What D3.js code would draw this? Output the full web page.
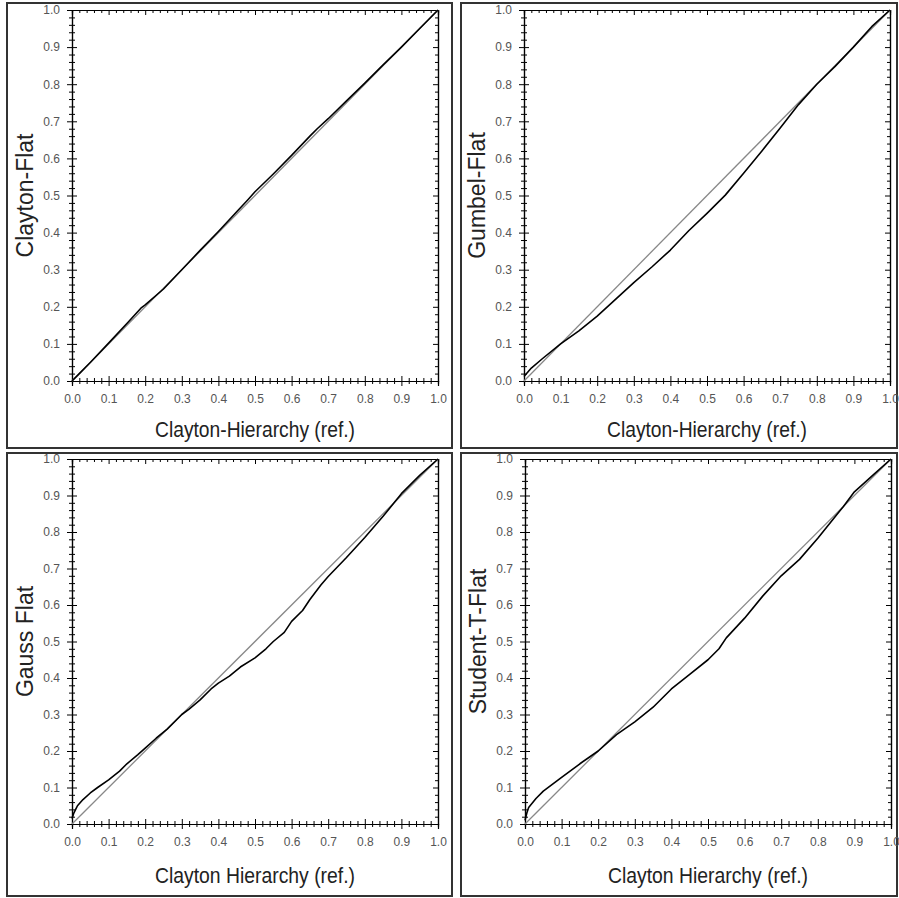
<!DOCTYPE html>
<html>
<head>
<meta charset="utf-8">
<script src="https://cdn.jsdelivr.net/npm/d3@7"></script>
<style>
  body { margin: 0; background: #fff; }
  svg { display: block; }
  .tick text { font-family: "Liberation Sans", Arial, sans-serif; font-size: 12px; fill: #555; }
  .title { font-family: "Liberation Sans", Arial, sans-serif; fill: #222; }
</style>
</head>
<body>
<svg></svg>
<script>
const width = 899;
const height = 898;

// tick labels, shared by every panel
const majorTicks = [0, 0.1, 0.2, 0.3, 0.4, 0.5, 0.6, 0.7, 0.8, 0.9, 1.0];
const minorTicks = [0.02, 0.04, 0.06, 0.08, 0.12, 0.14, 0.16, 0.18, 0.22, 0.24, 0.26, 0.28,
  0.32, 0.34, 0.36, 0.38, 0.42, 0.44, 0.46, 0.48, 0.52, 0.54, 0.56, 0.58, 0.62, 0.64, 0.66, 0.68,
  0.72, 0.74, 0.76, 0.78, 0.82, 0.84, 0.86, 0.88, 0.92, 0.94, 0.96, 0.98];

// reference diagonal
const diagX = [0, 1];
const diagY = [0, 1];

// Clayton-Flat vs Clayton-Hierarchy
const claytonX = [0, 0.02, 0.05, 0.1, 0.15, 0.19, 0.2, 0.25, 0.3, 0.35, 0.4, 0.45, 0.48, 0.5, 0.55, 0.6, 0.65, 0.67, 0.7, 0.75, 0.8, 0.85, 0.9, 0.95, 1];
const claytonY = [0, 0.02, 0.05, 0.102, 0.155, 0.198, 0.205, 0.248, 0.3, 0.352, 0.403, 0.456, 0.488, 0.51, 0.558, 0.608, 0.66, 0.68, 0.707, 0.755, 0.803, 0.852, 0.9, 0.95, 1];

// Gumbel-Flat vs Clayton-Hierarchy
const gumbelX = [0, 0.02, 0.05, 0.1, 0.15, 0.2, 0.25, 0.3, 0.35, 0.4, 0.45, 0.5, 0.55, 0.6, 0.65, 0.7, 0.75, 0.8, 0.85, 0.9, 0.95, 1];
const gumbelY = [0.012, 0.035, 0.06, 0.1, 0.135, 0.175, 0.22, 0.265, 0.308, 0.353, 0.405, 0.452, 0.501, 0.56, 0.62, 0.682, 0.745, 0.8, 0.848, 0.9, 0.955, 1];

// Gauss Flat vs Clayton Hierarchy
const gaussX = [0, 0.005, 0.01, 0.015, 0.03, 0.05, 0.07, 0.1, 0.13, 0.15, 0.18, 0.2, 0.23, 0.26, 0.3, 0.32, 0.35, 0.38, 0.4, 0.43, 0.46, 0.5, 0.53, 0.55, 0.58, 0.6, 0.63, 0.65, 0.68, 0.7, 0.75, 0.8, 0.85, 0.88, 0.9, 0.95, 1];
const gaussY = [0.015, 0.03, 0.04, 0.05, 0.067, 0.085, 0.1, 0.121, 0.145, 0.165, 0.19, 0.208, 0.235, 0.26, 0.3, 0.315, 0.34, 0.37, 0.386, 0.405, 0.43, 0.455, 0.48, 0.5, 0.525, 0.555, 0.585, 0.615, 0.655, 0.678, 0.73, 0.785, 0.843, 0.88, 0.905, 0.955, 1];

// Student-T-Flat vs Clayton Hierarchy
const studentX = [0, 0.005, 0.01, 0.03, 0.05, 0.1, 0.15, 0.2, 0.25, 0.3, 0.35, 0.4, 0.45, 0.5, 0.53, 0.55, 0.6, 0.65, 0.7, 0.75, 0.8, 0.85, 0.87, 0.9, 0.95, 1];
const studentY = [0.01, 0.03, 0.045, 0.07, 0.09, 0.128, 0.165, 0.2, 0.245, 0.28, 0.32, 0.37, 0.41, 0.45, 0.48, 0.51, 0.564, 0.625, 0.68, 0.725, 0.783, 0.845, 0.87, 0.91, 0.955, 1];

const panels = [
  {frame: [7, 3, 445, 445], plot: [72, 10, 366, 371], titleGap: 56, xTitle: "Clayton-Hierarchy (ref.)", yTitle: "Clayton-Flat", xs: claytonX, ys: claytonY},
  {frame: [461, 3, 436, 445], plot: [524, 10, 366, 371], titleGap: 56, xTitle: "Clayton-Hierarchy (ref.)", yTitle: "Gumbel-Flat", xs: gumbelX, ys: gumbelY},
  {frame: [7, 453, 445, 443], plot: [72, 459, 366, 365], titleGap: 59, xTitle: "Clayton Hierarchy (ref.)", yTitle: "Gauss Flat", xs: gaussX, ys: gaussY},
  {frame: [461, 453, 436, 443], plot: [525, 459, 366, 365], titleGap: 59, xTitle: "Clayton Hierarchy (ref.)", yTitle: "Student-T-Flat", xs: studentX, ys: studentY}
];

const svg = d3.select("svg")
  .attr("width", width)
  .attr("height", height);

svg.append("rect")
  .attr("width", width)
  .attr("height", height)
  .attr("fill", "#fff");

function drawPanel(p) {
  const [fx, fy, fw, fh] = p.frame;
  const [px, py, pw, ph] = p.plot;

  svg.append("rect")
    .attr("x", fx).attr("y", fy)
    .attr("width", fw).attr("height", fh)
    .attr("fill", "none")
    .attr("stroke", "#333")
    .attr("stroke-width", 2);

  const g = svg.append("g").attr("transform", "translate(" + px + "," + py + ")");

  const x = d3.scaleLinear().domain([0, 1]).range([0, pw]);
  const y = d3.scaleLinear().domain([0, 1]).range([ph, 0]);

  // top + right: inward ticks only
  g.append("g").call(d3.axisBottom(x).tickValues(minorTicks).tickSize(3).tickFormat(""));
  g.append("g").call(d3.axisBottom(x).tickValues(majorTicks).tickSize(5).tickFormat(""));
  g.append("g").attr("transform", "translate(" + pw + ",0)")
    .call(d3.axisLeft(y).tickValues(minorTicks).tickSize(3).tickFormat(""));
  g.append("g").attr("transform", "translate(" + pw + ",0)")
    .call(d3.axisLeft(y).tickValues(majorTicks).tickSize(5).tickFormat(""));

  // left axis, ticks cross the line
  const yMinor = g.append("g").call(d3.axisLeft(y).tickValues(minorTicks).tickSize(3).tickFormat(""));
  yMinor.selectAll(".tick line").attr("x1", 3);
  const yMajor = g.append("g").call(d3.axisLeft(y).tickValues(majorTicks).tickSize(5).tickPadding(7).tickFormat(d3.format(".1f")));
  yMajor.selectAll(".tick line").attr("x1", 5);

  // bottom axis, ticks cross the line
  const xMinor = g.append("g").attr("transform", "translate(0," + ph + ")")
    .call(d3.axisBottom(x).tickValues(minorTicks).tickSize(3).tickFormat(""));
  xMinor.selectAll(".tick line").attr("y1", -3);
  const xMajor = g.append("g").attr("transform", "translate(0," + ph + ")")
    .call(d3.axisBottom(x).tickValues(majorTicks).tickSize(5).tickPadding(8).tickFormat(d3.format(".1f")));
  xMajor.selectAll(".tick line").attr("y1", -5);

  g.selectAll(".domain").attr("stroke", "#000").attr("stroke-width", 1.2);
  g.selectAll(".tick line").attr("stroke", "#000");

  const line = d3.line().x(d => x(d[0])).y(d => y(d[1]));

  g.append("path")
    .datum(d3.zip(diagX, diagY))
    .attr("d", line)
    .attr("fill", "none")
    .attr("stroke", "#888")
    .attr("stroke-width", 1.3);

  g.append("path")
    .datum(d3.zip(p.xs, p.ys))
    .attr("d", line)
    .attr("fill", "none")
    .attr("stroke", "#000")
    .attr("stroke-width", 1.6)
    .attr("stroke-linejoin", "round");

  g.append("text")
    .attr("class", "title")
    .attr("x", pw / 2)
    .attr("y", ph + p.titleGap)
    .attr("text-anchor", "middle")
    .attr("textLength", 200)
    .attr("lengthAdjust", "spacingAndGlyphs")
    .style("font-size", "22px")
    .text(p.xTitle);

  g.append("text")
    .attr("class", "title")
    .attr("transform", "translate(-39," + (ph / 2) + ") rotate(-90)")
    .attr("text-anchor", "middle")
    .style("font-size", "23px")
    .text(p.yTitle);
}

panels.forEach(drawPanel);
</script>
</body>
</html>
